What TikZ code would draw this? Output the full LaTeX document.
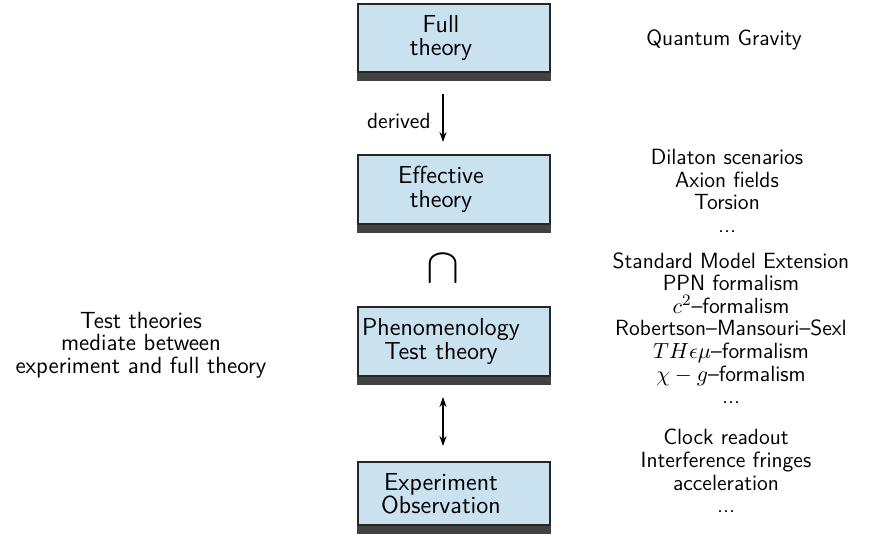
\documentclass[tikz,border=0pt]{standalone}
\usetikzlibrary{arrows.meta,calc}
\definecolor{boxfill}{RGB}{202,225,240}
\definecolor{bardark}{RGB}{66,66,66}
\begin{document}
\begin{tikzpicture}[x=0.5pt,y=-0.5pt,
  box/.style={draw=black!85, line width=0.7pt, fill=boxfill, minimum width=96pt, minimum height=34pt, inner sep=0pt},
  txt/.style={font=\sffamily\fontsize{12.3}{11.7}\selectfont, align=center, inner sep=0pt},
  side/.style={font=\sffamily\fontsize{11}{11.3}\selectfont, align=center, inner sep=0pt},
  arr/.style={line width=0.7pt, -{Stealth[length=5pt,width=3.5pt]}},
  darr/.style={line width=0.7pt, {Stealth[length=5pt,width=3.5pt]}-{Stealth[length=5pt,width=3.5pt]}},
  bar/.style={fill=bardark}]
\useasboundingbox (0,0) rectangle (888,545);
% boxes
\node[box] (full) at (454,38) {};
\node[box, minimum height=34.5pt] (eff) at (454,189.5) {};
\node[box, minimum height=34.5pt] (phen) at (454,341.5) {};
\node[box, minimum height=31.5pt] (exp) at (454,493.5) {};
\foreach \b in {full,eff,phen,exp}{
  \fill[bar] (\b.south west) rectangle ($(\b.south east)+(0,8)$);
}
% box texts
\node[txt] (fullt) at (441,38) {Full\\theory};
\node[txt] (efft) at (441,189.5) {Effective\\theory};
\node[txt] (phent) at (441,341.5) {Phenomenology\\Test theory};
\node[txt] (expt) at (441,493.5) {Experiment\\Observation};
% connectors
\coordinate (a1s) at (443,94);
\coordinate (a1e) at (443,142);
\draw[arr] (a1s) -- (a1e);
\node[side, anchor=east] (der) at (431,121) {derived};
\node[inner sep=0pt, font=\fontsize{24}{24}\selectfont] (capn) at (443,269) {$\cap$};
\coordinate (a2s) at (443,397);
\coordinate (a2e) at (443,446);
\draw[darr] (a2s) -- (a2e);
% right column
\node[side] (qg) at (724,40) {Quantum Gravity};
\node[side] (dil) at (727,191) {Dilaton scenarios\\Axion fields\\Torsion\\...};
\node[side] (sme) at (731,328) {Standard Model Extension\\PPN formalism\\$c^2$--formalism\\Robertson--Mansouri--Sexl\\$TH\epsilon\mu$--formalism\\$\chi-g$--formalism\\...};
\node[side] (clk) at (726,471) {Clock readout\\Interference fringes\\acceleration\\...};
% left text
\node[side, font=\sffamily\fontsize{11.7}{11.3}\selectfont] (tt) at (141,345) {Test theories\\mediate between\\experiment and full theory};
\end{tikzpicture}
\end{document}
